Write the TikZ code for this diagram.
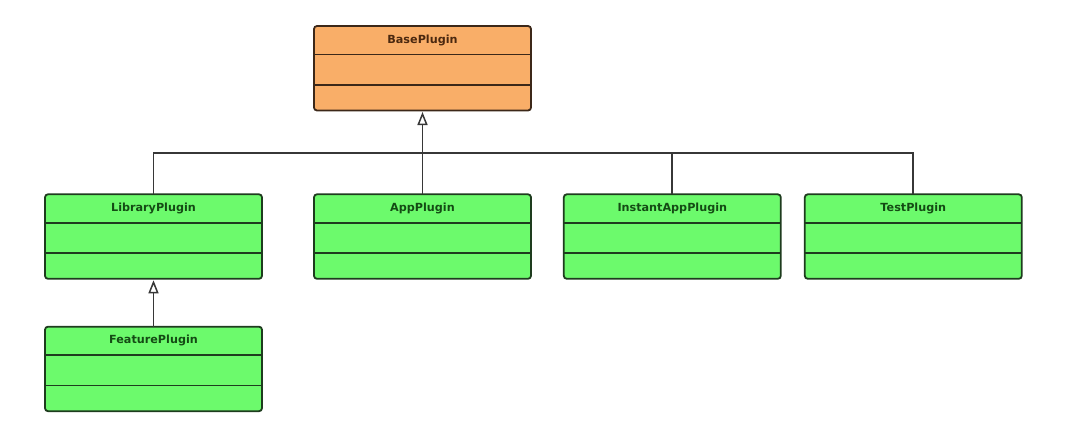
\documentclass[tikz,border=0pt]{standalone}
\usepackage{fontspec}
\setmainfont{DejaVu Sans}
\usetikzlibrary{arrows.meta}
\definecolor{orfill}{RGB}{249,174,104}
\definecolor{ordraw}{RGB}{60,40,25}
\definecolor{ortext}{RGB}{75,40,15}
\definecolor{grfill}{RGB}{108,250,108}
\definecolor{grdraw}{RGB}{30,60,30}
\definecolor{grtext}{RGB}{20,75,20}
\definecolor{conn}{RGB}{55,55,55}
\tikzset{
  clsbox/.style={draw, line width=1.8pt, rounded corners=3pt, minimum width=217pt, minimum height=84.5pt, inner sep=0pt, outer sep=0pt, anchor=north},
  orbox/.style={clsbox, fill=orfill, draw=ordraw},
  grbox/.style={clsbox, fill=grfill, draw=grdraw},
  clstitle/.style={font=\fontsize{11.2pt}{13pt}\selectfont\bfseries, inner sep=0pt},
  divider/.style={line width=1.8pt},
  connector/.style={draw=conn, line width=1.8pt},
  inherit/.style={connector, -{Triangle[open, length=13pt, width=10pt, fill=white, line width=1.5pt]}},
}
\newcommand{\umlclass}[7]{%
  \node[#5] (#1) at (#2pt,#3pt) {};
  \node[clstitle, text=#6] (#1t) at ([yshift=-14.2pt]#1.north) {#4};
  \draw[divider, draw=#7] ([yshift=-28.5pt]#1.north west) -- ([yshift=-28.5pt]#1.north east);
  \draw[divider, draw=#7] ([yshift=-58.8pt]#1.north west) -- ([yshift=-58.8pt]#1.north east);
}
\begin{document}
\begin{tikzpicture}[x=1pt,y=1pt]
\useasboundingbox (0,0) rectangle (1072,-423);
\fill[white] (0,0) rectangle (1072,-423);
\umlclass{base}{422.5}{-26}{BasePlugin}{orbox}{ortext}{ordraw}
\umlclass{lib}{153.5}{-194.3}{LibraryPlugin}{grbox}{grtext}{grdraw}
\umlclass{app}{422.5}{-194.3}{AppPlugin}{grbox}{grtext}{grdraw}
\umlclass{inst}{672.3}{-194.3}{InstantAppPlugin}{grbox}{grtext}{grdraw}
\umlclass{test}{913.3}{-194.3}{TestPlugin}{grbox}{grtext}{grdraw}
\umlclass{feat}{153.5}{-326.7}{FeaturePlugin}{grbox}{grtext}{grdraw}
\coordinate (bus) at (0,-153);
\draw[connector] (lib.north) -- (lib.north |- bus) -- (test.north |- bus) -- (test.north);
\draw[connector] (inst.north) -- (inst.north |- bus);
\draw[inherit] (app.north) -- ([yshift=-1.5pt]base.south);
\draw[inherit] (feat.north) -- ([yshift=-1.5pt]lib.south);
\end{tikzpicture}
\end{document}
